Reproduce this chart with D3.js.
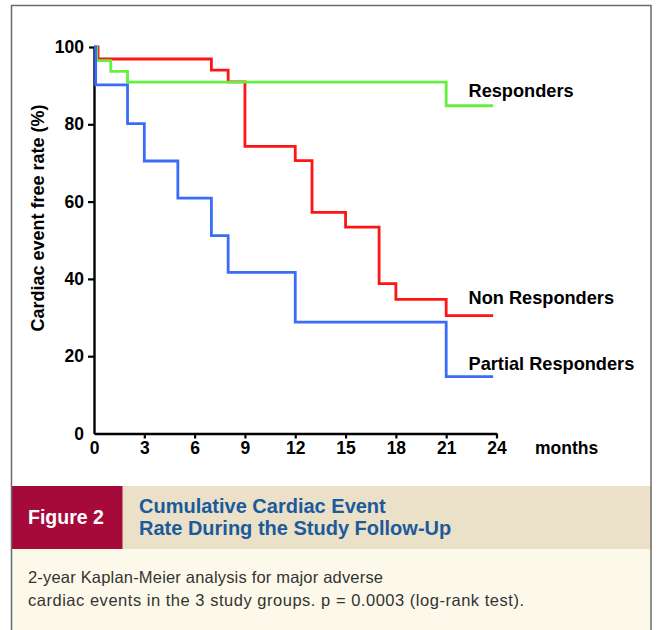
<!DOCTYPE html>
<html>
<head>
<meta charset="utf-8">
<script src="https://cdn.jsdelivr.net/npm/d3@7"></script>
<style>
  html, body { margin: 0; padding: 0; background: #ffffff; }
  svg { display: block; }
  text { font-family: "Liberation Sans", Arial, Helvetica, sans-serif; }
</style>
</head>
<body>
<svg id="chart" width="656" height="630"></svg>
<script>
// Follow-up time axis (months) and event-free rate axis (%)
const monthTicks = [0, 3, 6, 9, 12, 15, 18, 21, 24];
const rateTicks = [0, 20, 40, 60, 80, 100];

// Kaplan-Meier step curves: time of each step (months) and event-free rate after it (%)
const responderTimes = [0, 0.16, 1, 2, 21, 23.8];
const responderRates = [100, 96.5, 93.7, 90.9, 84.8, 84.8];

const nonResponderTimes = [0, 0.24, 7, 8, 9, 12, 13, 15, 17, 18, 21, 23.8];
const nonResponderRates = [100, 96.9, 94.0, 91.0, 74.3, 70.6, 57.2, 53.4, 38.8, 34.7, 30.5, 30.5];

const partialTimes = [0, 0.1, 2, 3, 5, 7, 8, 12, 21, 23.8];
const partialRates = [100, 90.2, 80.2, 70.5, 60.9, 51.2, 41.7, 28.8, 14.7, 14.7];

const seriesNames = ["Non Responders", "Responders", "Partial Responders"];
const seriesColors = ["#ff1414", "#62f23c", "#3a6cf7"];

const captionLines = [
  "2-year Kaplan-Meier analysis for major adverse",
  "cardiac events in the 3 study groups. p = 0.0003 (log-rank test)."
];

const svg = d3.select("#chart");

// ---- figure frame, banner and caption ----
svg.append("rect").attr("x", 12).attr("y", 486).attr("width", 639).attr("height", 63).attr("fill", "#ebe0c8");
svg.append("rect").attr("x", 12).attr("y", 486).attr("width", 110.5).attr("height", 63).attr("fill", "#a50a3a");
svg.append("rect").attr("x", 12).attr("y", 549).attr("width", 639).attr("height", 90).attr("fill", "#fdf9ea");
svg.append("rect").attr("x", 11.5).attr("y", 5.5).attr("width", 639.5).attr("height", 650)
  .attr("fill", "none").attr("stroke", "#6a6a6a").attr("stroke-width", 1.5);

svg.append("text").attr("x", 28).attr("y", 524)
  .attr("fill", "#ffffff").attr("font-size", 19.5).attr("font-weight", "bold").text("Figure 2");
svg.append("text").attr("x", 139).attr("y", 513)
  .attr("fill", "#1b5a9b").attr("font-size", 20).attr("font-weight", "bold").text("Cumulative Cardiac Event");
svg.append("text").attr("x", 139).attr("y", 535)
  .attr("fill", "#1b5a9b").attr("font-size", 20).attr("font-weight", "bold").text("Rate During the Study Follow-Up");

svg.append("g").selectAll("text")
  .data(captionLines)
  .join("text")
  .attr("x", 28)
  .attr("y", (d, i) => 583 + i * 23)
  .attr("fill", "#333333")
  .attr("font-size", 16.5)
  .attr("textLength", (d, i) => i === 0 ? 355 : 496)
  .attr("lengthAdjust", "spacing")
  .text(d => d);

// ---- plot ----
const x = d3.scaleLinear().domain([0, 24]).range([94, 496.5]);
const y = d3.scaleLinear().domain([0, 100]).range([433.5, 47]);

const yAxis = svg.append("g")
  .attr("transform", `translate(${x(0)},0)`)
  .call(d3.axisLeft(y).tickValues(rateTicks).tickSize(6).tickPadding(4).tickSizeOuter(0));
const xAxis = svg.append("g")
  .attr("transform", `translate(0,${y(0)})`)
  .call(d3.axisBottom(x).tickValues(monthTicks).tickSize(5).tickPadding(3).tickSizeOuter(0));

[yAxis, xAxis].forEach(g => {
  g.select(".domain").attr("stroke", "#000").attr("stroke-width", 2.4);
  g.selectAll(".tick line").attr("stroke", "#000").attr("stroke-width", 2.2);
  g.selectAll(".tick text").attr("fill", "#000").attr("font-size", 17.5).attr("font-weight", "bold")
    .attr("font-family", "'Liberation Sans', Arial, sans-serif");
});
// the origin carries no tick mark on either axis
xAxis.selectAll(".tick").filter(d => d === 0).select("line").remove();
yAxis.selectAll(".tick").filter(d => d === 0).select("line").remove();
yAxis.selectAll(".tick").filter(d => d === 100).select("line").attr("x2", -5);

const line = d3.line().x(d => x(d[0])).y(d => y(d[1])).curve(d3.curveStepAfter);

const curves = [
  d3.zip(nonResponderTimes, nonResponderRates),
  d3.zip(responderTimes, responderRates),
  d3.zip(partialTimes, partialRates)
];

svg.append("g").selectAll("path")
  .data(curves)
  .join("path")
  .attr("d", line)
  .attr("fill", "none")
  .attr("stroke", (d, i) => seriesColors[i])
  .attr("stroke-width", 2.8)
  .attr("stroke-linejoin", "miter");

// series names at the right end of each curve
const labelPos = [
  { name: seriesNames[0], ty: 304 },
  { name: seriesNames[1], ty: 97 },
  { name: seriesNames[2], ty: 370 }
];
svg.append("g").selectAll("text")
  .data(labelPos)
  .join("text")
  .attr("x", 468.5)
  .attr("y", d => d.ty)
  .attr("font-size", 18.2)
  .attr("font-weight", "bold")
  .attr("fill", "#000")
  .text(d => d.name);

svg.append("text").attr("x", 535).attr("y", 454)
  .attr("font-size", 17.5).attr("font-weight", "bold").attr("fill", "#000").text("months");

svg.append("text")
  .attr("transform", `translate(44,${218}) rotate(-90)`)
  .attr("text-anchor", "middle")
  .attr("font-size", 18)
  .attr("font-weight", "bold")
  .attr("fill", "#000")
  .text("Cardiac event free rate (%)");
</script>
</body>
</html>
